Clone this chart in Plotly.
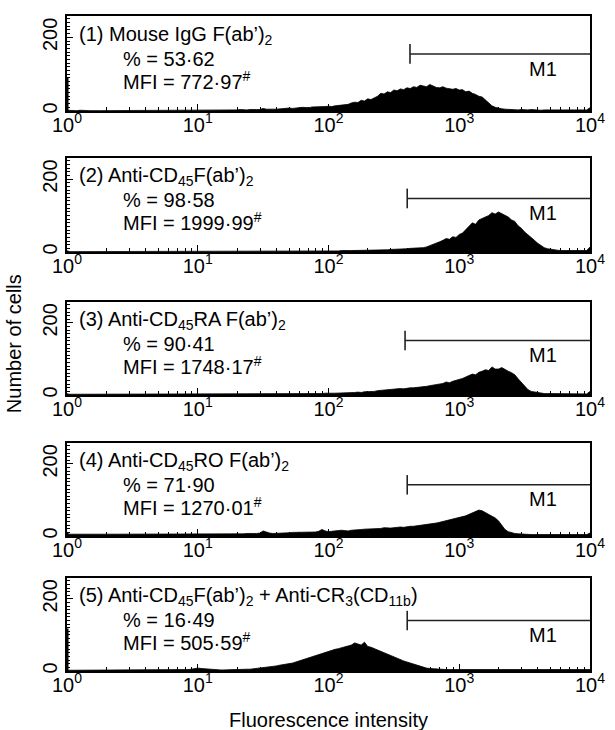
import numpy as np
import plotly.graph_objects as go
from plotly.subplots import make_subplots

# ---------------- data ----------------
# histogram channels: log10(fluorescence) from 0 to 4, step 0.025 (161 channels)
log_bins = [round(i * 0.025, 3) for i in range(161)]

counts_1 = ([2, 1, 1, 1, 2, 1, 1, 1, 1, 2, 1, 1, 1, 1, 2, 1, 1, 1, 1, 1] +
            [1, 2, 1, 1, 1, 1, 2, 1, 1, 1, 1, 1, 2, 1, 1, 1, 2, 1, 1, 2] +
            [2, 3, 2, 2, 3, 2, 3, 3, 2, 3, 3, 2, 3, 4, 3, 3, 4, 3, 4, 4] +
            [7, 5, 4, 5, 5, 6, 6, 7, 8, 7, 7, 9, 10, 9, 9, 11, 11, 10, 12, 12] +
            [13, 12, 14, 15, 15, 16, 18, 22, 24, 23, 29, 27, 33, 31, 36, 40, 48, 46, 52, 50] +
            [57, 55, 60, 58, 63, 61, 66, 64, 70, 67, 66, 72, 68, 64, 63, 66, 62, 60, 59, 61] +
            [57, 58, 52, 54, 48, 45, 40, 38, 30, 22, 14, 10, 7, 6, 5, 4, 4, 3, 3, 4] +
            [3, 3, 4, 3, 3, 2, 3, 4, 3, 3, 2, 3, 3, 3, 4, 3, 3, 3, 4, 3] +
            [9])
counts_2 = ([1, 1, 1, 1, 1, 1, 1, 1, 1, 1, 1, 1, 1, 1, 1, 1, 1, 1, 1, 1] +
            [1, 1, 1, 1, 1, 1, 2, 1, 1, 1, 1, 1, 1, 1, 2, 1, 1, 1, 1, 1] +
            [2, 2, 2, 2, 2, 2, 2, 2, 3, 2, 2, 2, 2, 2, 2, 2, 2, 2, 3, 2] +
            [2, 2, 2, 3, 2, 2, 2, 2, 2, 3, 2, 3, 2, 2, 3, 2, 3, 3, 2, 3] +
            [3, 3, 3, 3, 4, 3, 4, 4, 4, 4, 5, 5, 5, 5, 5, 6, 6, 6, 6, 7] +
            [7, 8, 8, 9, 9, 10, 10, 11, 11, 12, 14, 17, 20, 25, 28, 32, 37, 35, 42, 40] +
            [48, 52, 62, 70, 80, 76, 88, 92, 95, 100, 108, 104, 110, 106, 100, 96, 88, 84, 72, 65] +
            [55, 48, 40, 32, 24, 18, 12, 9, 7, 6, 5, 4, 4, 3, 3, 3, 3, 3, 3, 4] +
            [14])
counts_3 = ([2, 2, 3, 2, 2, 2, 3, 2, 2, 3, 2, 2, 2, 3, 2, 2, 3, 2, 2, 2] +
            [3, 2, 2, 3, 2, 2, 2, 3, 2, 2, 3, 2, 2, 3, 2, 3, 2, 2, 3, 2] +
            [3, 2, 3, 3, 2, 3, 3, 2, 3, 3, 2, 3, 3, 3, 2, 3, 3, 3, 3, 3] +
            [3, 3, 3, 4, 2, 3, 3, 3, 3, 4, 3, 3, 4, 3, 3, 4, 3, 4, 4, 5] +
            [4, 5, 5, 5, 5, 6, 6, 7, 7, 8, 7, 9, 9, 10, 10, 12, 13, 12, 14, 15] +
            [17, 16, 18, 17, 19, 20, 20, 21, 22, 21, 24, 26, 27, 28, 30, 32, 36, 34, 38, 40] +
            [44, 46, 50, 53, 58, 56, 63, 66, 70, 68, 78, 72, 72, 76, 70, 66, 62, 56, 45, 35] +
            [22, 15, 10, 8, 6, 5, 4, 4, 4, 3, 3, 3, 3, 3, 3, 3, 3, 3, 3, 3] +
            [10])
counts_4 = ([5, 4, 5, 5, 4, 5, 5, 6, 5, 5, 4, 5, 5, 5, 4, 5, 6, 5, 5, 5] +
            [5, 4, 5, 5, 6, 5, 5, 4, 5, 5, 5, 6, 5, 5, 5, 4, 5, 5, 6, 5] +
            [5, 6, 5, 5, 6, 5, 5, 6, 5, 6, 5, 6, 6, 5, 6, 7, 6, 7, 7, 8] +
            [14, 10, 8, 7, 7, 8, 8, 9, 9, 10, 10, 11, 12, 12, 10, 11, 11, 13, 18, 14] +
            [12, 13, 13, 15, 16, 14, 14, 16, 16, 18, 18, 19, 19, 21, 20, 20, 21, 23, 22, 22] +
            [23, 25, 25, 24, 26, 27, 27, 28, 29, 30, 32, 34, 34, 36, 38, 40, 42, 44, 46, 48] +
            [50, 54, 56, 60, 64, 68, 72, 70, 65, 60, 56, 50, 42, 30, 18, 12, 9, 7, 6, 5] +
            [5, 5, 4, 4, 4, 4, 4, 4, 3, 4, 4, 4, 3, 4, 4, 4, 3, 4, 4, 4] +
            [8])
counts_5 = ([2, 2, 3, 2, 2, 2, 3, 2, 2, 3, 2, 2, 2, 3, 2, 2, 3, 2, 2, 3] +
            [2, 3, 2, 2, 3, 2, 3, 2, 3, 2, 2, 3, 2, 3, 3, 2, 3, 4, 5, 7] +
            [8, 7, 6, 5, 4, 4, 4, 3, 3, 4, 4, 4, 4, 5, 5, 5, 5, 6, 6, 7] +
            [8, 9, 10, 12, 14, 16, 17, 18, 20, 22, 25, 28, 32, 35, 38, 41, 44, 47, 50, 53] +
            [56, 58, 60, 62, 64, 66, 68, 72, 78, 75, 72, 80, 68, 66, 62, 60, 55, 52, 48, 44] +
            [40, 36, 32, 28, 25, 22, 18, 15, 12, 10, 8, 7, 6, 5, 5, 4, 4, 4, 4, 3] +
            [3, 3, 3, 3, 3, 2, 3, 3, 3, 2, 3, 3, 3, 3, 2, 3, 3, 2, 3, 3] +
            [3, 2, 3, 3, 2, 3, 3, 3, 2, 3, 3, 3, 2, 3, 3, 3, 3, 2, 3, 3] +
            [4])
histograms = [counts_1, counts_2, counts_3, counts_4, counts_5]

# events piled up in the first channel (10^0)
first_channel = [90, 4, 4, 8, 118]

titles = [
    "(1) Mouse IgG F(ab’)<sub>2</sub>",
    "(2) Anti-CD<sub>45</sub>F(ab’)<sub>2</sub>",
    "(3) Anti-CD<sub>45</sub>RA F(ab’)<sub>2</sub>",
    "(4) Anti-CD<sub>45</sub>RO F(ab’)<sub>2</sub>",
    "(5) Anti-CD<sub>45</sub>F(ab’)<sub>2</sub> + Anti-CR<sub>3</sub>(CD<sub>11b</sub>)",
]
percent_labels = ["53·62", "98·58", "90·41", "71·90", "16·49"]
mfi_labels = ["772·97", "1999·99", "1748·17", "1270·01", "505·59"]

# M1 gate marker
m1_start = [420, 400, 385, 400, 400]
m1_end = 10000
m1_level = [155, 147, 151, 142, 140]
m1_half_tick = 27

x_tick_vals = [1, 10, 100, 1000, 10000]
x_tick_text = ["10<sup>0</sup>", "10<sup>1</sup>", "10<sup>2</sup>", "10<sup>3</sup>", "10<sup>4</sup>"]
x_minor_vals = [m * 10 ** k for k in range(4) for m in range(2, 10)]
y_tick_vals = [0, 200]

# ---------------- layout constants ----------------
W, H = 615, 730
M_L, M_R, M_T, M_B = 67, 10, 16, 59
panel_top_px = [16, 158, 302, 443, 578]
panel_bot_px = [111, 252, 395, 536, 671]
plot_h = H - M_T - M_B
FONT = "Liberation Sans, Arial, Helvetica, sans-serif"
FS = 20

fig = make_subplots(rows=5, cols=1)

for i in range(5):
    r = i + 1
    xs = [10 ** v for v in log_bins]
    fig.add_trace(go.Scatter(x=xs, y=histograms[i], mode="lines",
                             line=dict(color="black", width=0.8),
                             fill="tozeroy", fillcolor="black",
                             showlegend=False, hoverinfo="skip"), row=r, col=1)
    fig.add_trace(go.Scatter(x=[1, 1], y=[0, first_channel[i]], mode="lines",
                             line=dict(color="black", width=3),
                             showlegend=False, hoverinfo="skip"), row=r, col=1)
    # M1 marker
    fig.add_trace(go.Scatter(x=[m1_start[i], m1_end], y=[m1_level[i], m1_level[i]], mode="lines",
                             line=dict(color="#222", width=1.6),
                             showlegend=False, hoverinfo="skip"), row=r, col=1)
    fig.add_trace(go.Scatter(x=[m1_start[i], m1_start[i]],
                             y=[m1_level[i] - m1_half_tick, m1_level[i] + m1_half_tick], mode="lines",
                             line=dict(color="#222", width=1.6),
                             showlegend=False, hoverinfo="skip"), row=r, col=1)

    xa = "x" if r == 1 else f"x{r}"
    ya = "y" if r == 1 else f"y{r}"
    fig.add_annotation(x=np.log10(4400), y=m1_level[i] - 40, xref=xa, yref=ya,
                       text="M1", showarrow=False, font=dict(size=FS, color="black", family=FONT))
    fig.add_annotation(x=0.02, y=0.80, xref=f"{xa} domain", yref=f"{ya} domain",
                       text=titles[i], showarrow=False, xanchor="left", yanchor="middle",
                       font=dict(size=FS, color="black", family=FONT))
    fig.add_annotation(x=0.104, y=0.55, xref=f"{xa} domain", yref=f"{ya} domain",
                       text="% = " + percent_labels[i], showarrow=False, xanchor="left", yanchor="middle",
                       font=dict(size=FS, color="black", family=FONT))
    fig.add_annotation(x=0.104, y=0.32, xref=f"{xa} domain", yref=f"{ya} domain",
                       text="MFI = " + mfi_labels[i] + "<sup>#</sup>", showarrow=False,
                       xanchor="left", yanchor="middle",
                       font=dict(size=FS, color="black", family=FONT))

    d0 = (H - M_B - panel_bot_px[i]) / plot_h
    d1 = (H - M_B - panel_top_px[i]) / plot_h
    fig.update_xaxes(type="log", range=[0, 4], tickmode="array", tickvals=x_tick_vals,
                     ticktext=x_tick_text, ticks="inside", ticklen=7, tickwidth=1.2, tickcolor="black",
                     ticklabeloverflow="allow", ticklabelstandoff=-5,
                     minor=dict(tickmode="array", tickvals=x_minor_vals, ticks="inside",
                                ticklen=4, tickwidth=1, tickcolor="black", showgrid=False),
                     showline=True, mirror=True, linecolor="black", linewidth=1.5,
                     showgrid=False, zeroline=False,
                     tickfont=dict(size=FS, color="black", family=FONT),
                     row=r, col=1)
    fig.update_yaxes(range=[0, 258], tickmode="array", tickvals=y_tick_vals,
                     ticks="inside", ticklen=6, tickwidth=1.2, tickcolor="black", tickangle=-90,
                     minor=dict(dtick=10, tick0=0, ticks="inside", ticklen=3, tickwidth=1,
                                tickcolor="black", showgrid=False),
                     showline=True, mirror=True, linecolor="black", linewidth=1.5,
                     showgrid=False, zeroline=False, domain=[d0, d1],
                     tickfont=dict(size=FS, color="black", family=FONT),
                     row=r, col=1)

fig.add_annotation(x=-0.102, y=0.5, xref="paper", yref="paper", text="Number of cells",
                   textangle=-90, showarrow=False, xanchor="center", yanchor="middle",
                   font=dict(size=FS, color="black", family=FONT))
fig.add_annotation(x=0.5, y=(panel_bot_px[-1] - 720) / plot_h, xref="paper", yref="paper",
                   text="Fluorescence intensity", showarrow=False, xanchor="center", yanchor="middle",
                   font=dict(size=FS, color="black", family=FONT))

fig.update_layout(width=W, height=H, margin=dict(l=M_L, r=M_R, t=M_T, b=M_B),
                  paper_bgcolor="white", plot_bgcolor="white", showlegend=False,
                  font=dict(family=FONT, color="black", size=FS))

fig.write_html("out.html", config={"displayModeBar": False},
               post_script="document.body.style.margin='0';document.body.style.overflow='hidden';")
